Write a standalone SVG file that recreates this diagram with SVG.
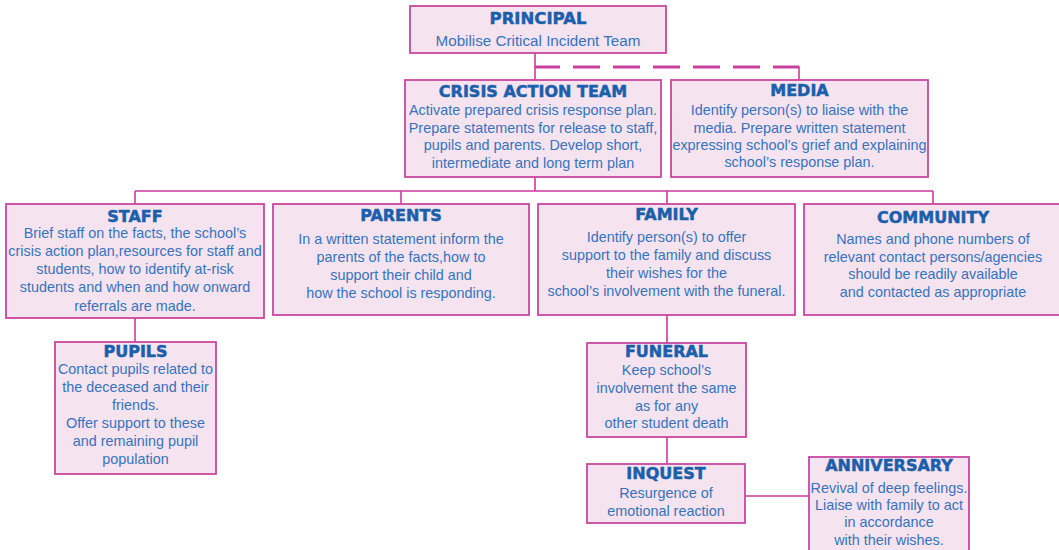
<svg xmlns="http://www.w3.org/2000/svg" width="1059" height="550" viewBox="0 0 1059 550">
<style>
.box{fill:#f5e3ef;stroke:#c9479f;stroke-width:1.8}
.t{font-family:"DejaVu Sans",sans-serif;font-weight:bold;font-size:16px;fill:#1b5fab;stroke:#1b5fab;stroke-width:0.5;text-anchor:middle}
.b{font-family:"Liberation Sans",Arial,sans-serif;font-size:14.4px;fill:#3574bd;text-anchor:middle}
.c{stroke:#cc3a9e;stroke-width:1.6;fill:none}
.d{stroke:#c9409c;stroke-width:2.8;fill:none;stroke-dasharray:27,13;stroke-dashoffset:2}
</style>
<rect width="1059" height="550" fill="#ffffff"/>
<g id="connectors">
<path class="c" d="M535 53V80"/>
<path class="d" d="M535 67H799"/>
<path class="c" d="M799 66V80"/>
<path class="c" d="M535 177V191"/>
<path class="c" d="M135 191H933"/>
<path class="c" d="M135 191V204M401 191V204M667 191V204M933 191V204"/>
<path class="c" d="M135 318V342"/>
<path class="c" d="M667 315V343"/>
<path class="c" d="M667 437V464"/>
<path class="c" d="M745 496H809"/>
</g>
<g id="principal">
<rect class="box" x="410" y="6" width="256" height="47"/>
<text class="t" x="538" y="24" style="font-size:16.5px">PRINCIPAL</text>
<text class="b" x="538" y="46" style="font-size:15.2px">Mobilise Critical Incident Team</text>
</g>
<g id="crisis">
<rect class="box" x="405" y="80" width="256" height="97"/>
<text class="t" x="533" y="97">CRISIS ACTION TEAM</text>
<text class="b" x="533" y="115">Activate prepared crisis response plan.</text>
<text class="b" x="533" y="133">Prepare statements for release to staff,</text>
<text class="b" x="533" y="150">pupils and parents. Develop short,</text>
<text class="b" x="533" y="168">intermediate and long term plan</text>
</g>
<g id="media">
<rect class="box" x="671" y="80" width="257" height="97"/>
<text class="t" x="799.5" y="96">MEDIA</text>
<text class="b" x="799.5" y="115">Identify person(s) to liaise with the</text>
<text class="b" x="799.5" y="133">media. Prepare written statement</text>
<text class="b" x="799.5" y="150">expressing school’s grief and explaining</text>
<text class="b" x="799.5" y="167">school’s response plan.</text>
</g>
<g id="staff">
<rect class="box" x="6" y="204" width="258" height="114"/>
<text class="t" x="135" y="221.5">STAFF</text>
<text class="b" x="135" y="238">Brief staff on the facts, the school’s</text>
<text class="b" x="135" y="256">crisis action plan,resources for staff and</text>
<text class="b" x="135" y="274">students, how to identify at-risk</text>
<text class="b" x="135" y="292">students and when and how onward</text>
<text class="b" x="135" y="311">referrals are made.</text>
</g>
<g id="parents">
<rect class="box" x="273" y="204" width="256" height="111"/>
<text class="t" x="401" y="221">PARENTS</text>
<text class="b" x="401" y="244">In a written statement inform the</text>
<text class="b" x="401" y="262">parents of the facts,how to</text>
<text class="b" x="401" y="280">support their child and</text>
<text class="b" x="401" y="298">how the school is responding.</text>
</g>
<g id="family">
<rect class="box" x="538" y="204" width="257" height="111"/>
<text class="t" x="666.5" y="220">FAMILY</text>
<text class="b" x="666.5" y="242">Identify person(s) to offer</text>
<text class="b" x="666.5" y="260">support to the family and discuss</text>
<text class="b" x="666.5" y="278">their wishes for the</text>
<text class="b" x="666.5" y="296">school’s involvement with the funeral.</text>
</g>
<g id="community">
<rect class="box" x="804" y="204" width="260" height="111"/>
<text class="t" x="933" y="223">COMMUNITY</text>
<text class="b" x="933" y="244">Names and phone numbers of</text>
<text class="b" x="933" y="262">relevant contact persons/agencies</text>
<text class="b" x="933" y="279">should be readily available</text>
<text class="b" x="933" y="297">and contacted as appropriate</text>
</g>
<g id="pupils">
<rect class="box" x="55" y="342" width="161" height="132"/>
<text class="t" x="135.5" y="357">PUPILS</text>
<text class="b" x="135.5" y="374">Contact pupils related to</text>
<text class="b" x="135.5" y="392">the deceased and their</text>
<text class="b" x="135.5" y="410">friends.</text>
<text class="b" x="135.5" y="428">Offer support to these</text>
<text class="b" x="135.5" y="446">and remaining pupil</text>
<text class="b" x="135.5" y="464">population</text>
</g>
<g id="funeral">
<rect class="box" x="587" y="343" width="159" height="94"/>
<text class="t" x="666.5" y="357">FUNERAL</text>
<text class="b" x="666.5" y="375">Keep school’s</text>
<text class="b" x="666.5" y="393">involvement the same</text>
<text class="b" x="666.5" y="411">as for any</text>
<text class="b" x="666.5" y="428">other student death</text>
</g>
<g id="inquest">
<rect class="box" x="587" y="464" width="158" height="59"/>
<text class="t" x="666" y="479">INQUEST</text>
<text class="b" x="666" y="498">Resurgence of</text>
<text class="b" x="666" y="516">emotional reaction</text>
</g>
<g id="anniversary">
<rect class="box" x="809" y="457" width="160" height="100"/>
<text class="t" x="889" y="471">ANNIVERSARY</text>
<text class="b" x="889" y="493">Revival of deep feelings.</text>
<text class="b" x="889" y="510">Liaise with family to act</text>
<text class="b" x="889" y="527">in accordance</text>
<text class="b" x="889" y="545">with their wishes.</text>
</g>
</svg>
